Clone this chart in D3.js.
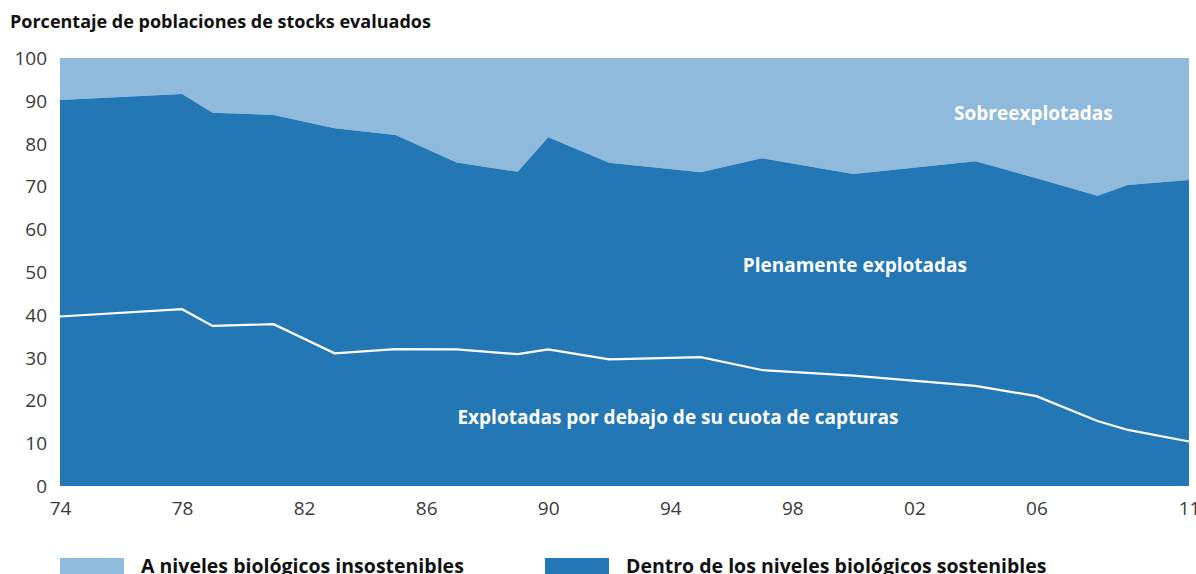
<!DOCTYPE html>
<html lang="es">
<head>
<meta charset="utf-8">
<title>Porcentaje de poblaciones de stocks evaluados</title>
<script src="https://d3js.org/d3.v7.min.js"></script>
<style>
  body { margin: 0; background: #fff; }
  .axis text { font: 19px "Open Sans", sans-serif; fill: #3a3a3a; }
  .axis path, .axis line { display: none; }
  .title { font: bold 18px "Open Sans", sans-serif; fill: #111; }
  .inlabel { font: bold 19px "Open Sans", sans-serif; fill: #fff; }
  .legend text { font: bold 19.5px "Open Sans", sans-serif; fill: #111; }
</style>
</head>
<body>
<script>
// years where the chart has a vertex
var years = [1974, 1978, 1979, 1981, 1983, 1985, 1987, 1989, 1990, 1992, 1995, 1997, 2000, 2004, 2006, 2008, 2009, 2011];
// total within biologically sustainable levels (top of dark area)
var sostenibles = [90.2, 91.6, 87.2, 86.7, 83.6, 82.0, 75.6, 73.4, 81.5, 75.5, 73.3, 76.6, 72.9, 75.9, 71.9, 67.8, 70.3, 71.5];
// exploited below catch quota (white line)
var debajoCuota = [39.6, 41.3, 37.4, 37.8, 31.0, 32.0, 31.9, 30.8, 31.9, 29.6, 30.1, 27.1, 25.8, 23.4, 21.0, 15.2, 13.1, 10.4];

var yTicks = [0, 10, 20, 30, 40, 50, 60, 70, 80, 90, 100];
var xTicks = [1974, 1978, 1982, 1986, 1990, 1994, 1998, 2002, 2006, 2011];

var legendItems = ["A niveles biológicos insostenibles", "Dentro de los niveles biológicos sostenibles"];
var colorLight = "#8fbadb", colorDark = "#2277b4";

var width = 1196, height = 574;
var margin = {top: 58, left: 60, right: 7, bottom: 88};

var data = years.map(function(y, i) {
  return {year: y, top: sostenibles[i], low: debajoCuota[i]};
});

var svg = d3.select("body").append("svg")
  .attr("width", width)
  .attr("height", height);

var x = d3.scaleLinear()
  .domain([1974, 2011])
  .range([margin.left, width - margin.right]);

var y = d3.scaleLinear()
  .domain([0, 100])
  .range([height - margin.bottom, margin.top]);

// title
svg.append("text")
  .attr("class", "title")
  .attr("x", 10)
  .attr("y", 28)
  .text("Porcentaje de poblaciones de stocks evaluados");

// overexploited (light) area: from sustainable top to 100
var areaOver = d3.area()
  .x(function(d) { return x(d.year); })
  .y0(function(d) { return y(d.top); })
  .y1(function() { return y(100); });

var areaSust = d3.area()
  .x(function(d) { return x(d.year); })
  .y0(function() { return y(0); })
  .y1(function(d) { return y(d.top); });

svg.append("path")
  .datum(data)
  .attr("fill", colorLight)
  .attr("d", areaOver);

svg.append("path")
  .datum(data)
  .attr("fill", colorDark)
  .attr("d", areaSust);

// white line for stocks below catch quota
svg.append("path")
  .datum(data)
  .attr("fill", "none")
  .attr("stroke", "#fff")
  .attr("stroke-width", 2.2)
  .attr("d", d3.line()
    .x(function(d) { return x(d.year); })
    .y(function(d) { return y(d.low); }));

// axes
svg.append("g")
  .attr("class", "axis")
  .attr("transform", "translate(" + (margin.left - 13) + ",0)")
  .call(d3.axisLeft(y).tickValues(yTicks).tickSize(0).tickPadding(0))
  .selectAll("text")
  .attr("dy", "0.34em");

svg.append("g")
  .attr("class", "axis")
  .attr("transform", "translate(0," + (height - margin.bottom) + ")")
  .call(d3.axisBottom(x).tickValues(xTicks).tickSize(0).tickPadding(16)
    .tickFormat(function(d) { return d3.format("02")(d % 100); }));

// inline labels
var labels = [
  {text: "Sobreexplotadas", year: 2005.9, val: 85.4},
  {text: "Plenamente explotadas", year: 2000.05, val: 49.9},
  {text: "Explotadas por debajo de su cuota de capturas", year: 1994.25, val: 14.4}
];
svg.selectAll(".inlabel")
  .data(labels).enter()
  .append("text")
  .attr("class", "inlabel")
  .attr("text-anchor", "middle")
  .attr("x", function(d) { return x(d.year); })
  .attr("y", function(d) { return y(d.val); })
  .text(function(d) { return d.text; });

// legend
var legend = svg.append("g").attr("class", "legend");
var lx = [60, 545];
legendItems.forEach(function(t, i) {
  legend.append("rect")
    .attr("x", lx[i])
    .attr("y", 558)
    .attr("width", 64)
    .attr("height", 20)
    .attr("fill", i === 0 ? colorLight : colorDark);
  legend.append("text")
    .attr("x", lx[i] + 81)
    .attr("y", 573)
    .text(t);
});
</script>
</body>
</html>
